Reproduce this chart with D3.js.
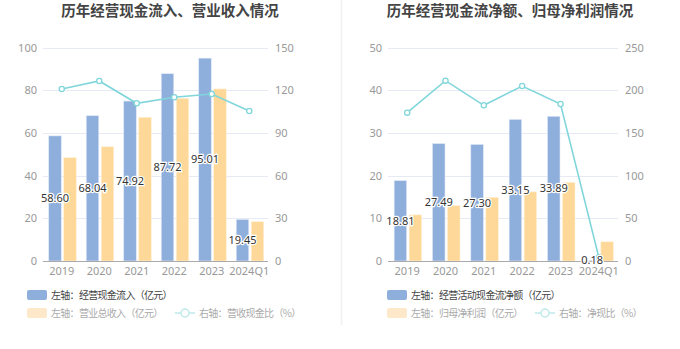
<!DOCTYPE html>
<html><head><meta charset="utf-8">
<script src="https://cdn.jsdelivr.net/npm/d3@7"></script>
<style>
html,body{margin:0;padding:0;background:#fff;}
svg{display:block;font-family:"Noto Sans CJK SC","Noto Sans",sans-serif;}
</style></head>
<body><svg id="c" width="680" height="349"></svg>
<script>
const categories = ["2019","2020","2021","2022","2023","2024Q1"];
// Left chart
const cashInflow = [58.60, 68.04, 74.92, 87.72, 95.01, 19.45];
const revenue = [48.4, 53.5, 67.3, 76.2, 80.6, 18.4];
const revenueCashRatio = [120.8, 126.5, 110.8, 115.0, 117.3, 105.4];
const leftTicksA = [0,20,40,60,80,100];
const rightTicksA = [0,30,60,90,120,150];
// Right chart
const netCashFlow = [18.81, 27.49, 27.30, 33.15, 33.89, 0.18];
const netProfit = [10.8, 12.95, 14.9, 16.2, 18.4, 4.5];
const netCashRatio = [173.7, 211.2, 182.3, 204.9, 183.8, 4.3];
const leftTicksB = [0,10,20,30,40,50];
const rightTicksB = [0,50,100,150,200,250];

const titles = ["历年经营现金流入、营业收入情况","历年经营现金流净额、归母净利润情况"];
const legendA = ["左轴：经营现金流入（亿元）","左轴：营业总收入（亿元）","右轴：营收现金比（%）"];
const legendB = ["左轴：经营活动现金流净额（亿元）","左轴：归母净利润（亿元）","右轴：净现比（%）"];

const C_BLUE = "#8eaedc", C_ORANGE = "#fed898", C_LINE = "#80d6da";
const svg = d3.select("#c");

svg.append("line").attr("x1",341.5).attr("x2",341.5).attr("y1",0).attr("y2",325)
  .attr("stroke","#f0f0f0").attr("stroke-width",1.5);

function drawChart(cfg){
  const g = svg.append("g");
  const x = d3.scaleBand().domain(categories).range([cfg.x0, cfg.x1]);
  const yL = d3.scaleLinear().domain([0, cfg.lt[cfg.lt.length-1]]).range([261, 47.5]);
  const yR = d3.scaleLinear().domain([0, cfg.rt[cfg.rt.length-1]]).range([261, 47.5]);

  g.append("text").attr("x", cfg.tx).attr("y", 16).attr("text-anchor","middle")
    .attr("font-size", 14.5).attr("font-weight","bold").attr("fill","#444").text(cfg.title);

  // grid
  g.selectAll(".grid").data(cfg.lt.slice(1)).join("line")
    .attr("x1", cfg.x0).attr("x2", cfg.x1)
    .attr("y1", d=>Math.round(yL(d))+0.5).attr("y2", d=>Math.round(yL(d))+0.5)
    .attr("stroke","#e6eaf4").attr("stroke-width",1);

  // axes labels
  const axL = g.append("g").attr("transform",`translate(${cfg.x0-6},0)`)
    .call(d3.axisLeft(yL).tickValues(cfg.lt).tickSize(0).tickPadding(0));
  axL.select(".domain").remove();
  axL.selectAll("text").attr("font-size",11).attr("fill","#999").attr("font-family","'Noto Sans',sans-serif");
  const axR = g.append("g").attr("transform",`translate(${cfg.x1+7},0)`)
    .call(d3.axisRight(yR).tickValues(cfg.rt).tickSize(0).tickPadding(0));
  axR.select(".domain").remove();
  axR.selectAll("text").attr("font-size",11).attr("fill","#999").attr("font-family","'Noto Sans',sans-serif");

  // bars
  const bw = 12.5;
  g.selectAll(".b1").data(cfg.a).join("rect")
    .attr("x",(d,i)=>x(categories[i])+x.bandwidth()/2-bw-0.5)
    .attr("y",d=>yL(d)).attr("width",bw).attr("height",d=>yL(0)-yL(d))
    .attr("fill",C_BLUE).attr("stroke","#dfe8f6").attr("stroke-width",0.6);
  g.selectAll(".b2").data(cfg.b).join("rect")
    .attr("x",(d,i)=>x(categories[i])+x.bandwidth()/2+2)
    .attr("y",d=>yL(d)).attr("width",bw).attr("height",d=>yL(0)-yL(d))
    .attr("fill",C_ORANGE).attr("stroke","#fff1d8").attr("stroke-width",0.6);

  // x axis
  g.append("line").attr("x1",cfg.x0).attr("x2",cfg.x1).attr("y1",261.5).attr("y2",261.5)
    .attr("stroke","#aaa").attr("stroke-width",1);
  g.selectAll(".xl").data(categories).join("text")
    .attr("x",d=>x(d)+x.bandwidth()/2).attr("y",275).attr("text-anchor","middle")
    .attr("font-size",11).attr("fill","#999").attr("font-family","'Noto Sans',sans-serif").text(d=>d);

  // line
  const line = d3.line().x((d,i)=>x(categories[i])+x.bandwidth()/2).y(d=>yR(d));
  g.append("path").datum(cfg.r).attr("d",line).attr("fill","none")
    .attr("stroke",C_LINE).attr("stroke-width",1.6);
  g.selectAll(".pt").data(cfg.r).join("circle")
    .attr("cx",(d,i)=>x(categories[i])+x.bandwidth()/2).attr("cy",d=>yR(d)).attr("r",2.6)
    .attr("fill","#fff").attr("stroke",C_LINE).attr("stroke-width",1.3);

  // value labels
  g.selectAll(".vl").data(cfg.a).join("text")
    .attr("x",(d,i)=>x(categories[i])+x.bandwidth()/2-bw/2-0.5)
    .attr("y",d=>(yL(d)+yL(0))/2).attr("dy","0.35em").attr("text-anchor","middle")
    .attr("font-size",11).attr("fill","#333").attr("font-family","'Noto Sans',sans-serif")
    .attr("stroke","#fff").attr("stroke-width",2.5).attr("paint-order","stroke")
    .text(d=>d.toFixed(2));

  // legend
  const lg = g.append("g").attr("font-size",10).attr("letter-spacing",-0.7);
  lg.append("rect").attr("x",cfg.lx).attr("y",290).attr("width",20).attr("height",10).attr("rx",2)
    .attr("fill",C_BLUE);
  lg.append("text").attr("x",cfg.lx+24).attr("y",295).attr("dy","0.35em")
    .attr("fill","#444").text(cfg.legend[0]);
  lg.append("rect").attr("x",cfg.lx).attr("y",308).attr("width",20).attr("height",10).attr("rx",2)
    .attr("fill","#fde9c9");
  lg.append("text").attr("x",cfg.lx+24).attr("y",313).attr("dy","0.35em")
    .attr("fill","#aaa").text(cfg.legend[1]);
  const lx3 = cfg.l3;
  lg.append("line").attr("x1",lx3).attr("x2",lx3+20).attr("y1",313).attr("y2",313)
    .attr("stroke","#bfe9eb").attr("stroke-width",1.5);
  lg.append("circle").attr("cx",lx3+10).attr("cy",313).attr("r",4)
    .attr("fill","#fff").attr("stroke","#bfe9eb").attr("stroke-width",1.5);
  lg.append("text").attr("x",lx3+24).attr("y",313).attr("dy","0.35em")
    .attr("fill","#aaa").text(cfg.legend[2]);
}

drawChart({x0:43, x1:268, tx:170, title:titles[0], lt:leftTicksA, rt:rightTicksA,
  a:cashInflow, b:revenue, r:revenueCashRatio, legend:legendA, lx:27, l3:175});
drawChart({x0:388, x1:618, tx:510, title:titles[1], lt:leftTicksB, rt:rightTicksB,
  a:netCashFlow, b:netProfit, r:netCashRatio, legend:legendB, lx:387, l3:535});
</script></body></html>
